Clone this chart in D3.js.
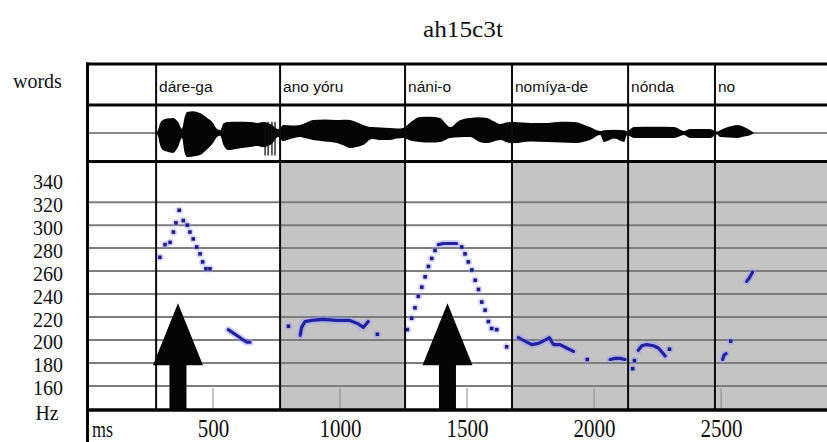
<!DOCTYPE html>
<html>
<head>
<meta charset="utf-8">
<script src="https://cdn.jsdelivr.net/npm/d3@7"></script>
<style>
  html, body { margin: 0; padding: 0; background: #fff; }
  svg { display: block; }
</style>
</head>
<body>
<svg id="chart" width="827" height="442"></svg>
<script>
// ---- data -------------------------------------------------------------
const titleText = "ah15c3t";

// word tier: label and onset (ms)
const wordLabels  = ["dáre-ga", "ano yóru", "náni-o", "nomíya-de", "nónda", "no"];
const wordStartMs = [276, 764, 1256, 1677, 2134, 2476];
const wordShaded  = [false, true, false, true, true, true];

// axes
const hzTickLabels = [160, 180, 200, 220, 240, 260, 280, 300, 320, 340];
const hzGridLines  = [160, 180, 200, 220, 240, 260, 280, 300, 320];
const msTickLabels = [500, 1000, 1500, 2000, 2500];

// accent arrows (ms) and the pitch level their tips reach (Hz)
const arrowMs = [362, 1423];
const arrowTipHz = 232;

// waveform amplitude envelope (relative units, 1 = full half-row)
const waveMs = [276, 283, 292, 303, 318, 343, 362, 378, 388, 398, 420, 449, 475, 500, 515, 528, 542, 559, 600, 646,
                675, 697, 730, 756, 766, 776, 810, 843, 870, 894, 940, 988, 1015, 1039, 1065, 1091, 1126, 1160, 1197, 1225,
                1248, 1280, 1315, 1355, 1394, 1415, 1433, 1470, 1512, 1545, 1579, 1605, 1630, 1660, 1685, 1750, 1815, 1870, 1921, 1984,
                2024, 2039, 2080, 2118, 2130, 2157, 2235, 2315, 2354, 2378, 2457, 2484, 2496, 2530, 2563, 2595, 2614, 2630];
const waveUp   = [0.00, 0.10, 0.35, 0.46, 0.52, 0.54, 0.40, 0.15, 0.55, 0.75, 0.78, 0.71, 0.55, 0.36, 0.15, 0.10, 0.35, 0.39, 0.40, 0.39,
                  0.36, 0.39, 0.30, 0.14, 0.20, 0.29, 0.27, 0.29, 0.38, 0.46, 0.48, 0.46, 0.47, 0.46, 0.38, 0.29, 0.21, 0.20, 0.18, 0.16,
                  0.18, 0.40, 0.57, 0.58, 0.54, 0.35, 0.21, 0.45, 0.54, 0.56, 0.54, 0.42, 0.32, 0.38, 0.39, 0.36, 0.36, 0.40, 0.39, 0.21,
                  0.07, 0.10, 0.12, 0.10, 0.07, 0.21, 0.22, 0.21, 0.07, 0.14, 0.14, 0.05, 0.10, 0.22, 0.29, 0.20, 0.10, 0.00];
const waveDown = [0.00, 0.10, 0.45, 0.61, 0.66, 0.71, 0.50, 0.18, 0.70, 0.86, 0.84, 0.79, 0.60, 0.36, 0.15, 0.10, 0.45, 0.61, 0.55, 0.50,
                  0.46, 0.50, 0.40, 0.14, 0.22, 0.29, 0.20, 0.14, 0.20, 0.25, 0.30, 0.36, 0.45, 0.54, 0.50, 0.43, 0.21, 0.25, 0.25, 0.20,
                  0.18, 0.28, 0.32, 0.34, 0.32, 0.25, 0.18, 0.15, 0.14, 0.30, 0.36, 0.30, 0.25, 0.34, 0.36, 0.30, 0.32, 0.34, 0.36, 0.25,
                  0.07, 0.32, 0.20, 0.32, 0.07, 0.18, 0.18, 0.18, 0.07, 0.18, 0.18, 0.05, 0.14, 0.16, 0.18, 0.12, 0.08, 0.00];
// plosive release clicks
const clickMs = [705, 717, 732, 744];

// F0 track, grouped into voiced stretches
const f0DaregaMs     = [291, 311, 331, 344, 354, 367, 383, 399, 409, 422, 436, 449, 459, 472, 488];
const f0DaregaHz     = [272, 283, 285, 294, 302, 313, 304, 300, 294, 288, 281, 275, 268, 262, 262];
const f0DaregaTailMs = [560, 580, 600, 619, 633, 646];
const f0DaregaTailHz = [209, 206, 203, 200, 198, 198];
const f0AnoOnsetMs   = [797];
const f0AnoOnsetHz   = [212];
const f0AnoMs        = [843, 849, 862, 888, 934, 987, 1039, 1072, 1092, 1111];
const f0AnoHz        = [204, 211, 216, 217, 218, 217, 217, 214, 211, 216];
const f0AnoEndMs     = [1147];
const f0AnoEndHz     = [205];
const f0NaniRiseMs   = [1265, 1282, 1295, 1308, 1322, 1335, 1348, 1361, 1374];
const f0NaniRiseHz   = [209, 219, 228, 238, 246, 255, 264, 271, 278];
const f0NaniTopMs    = [1387, 1407, 1433, 1459];
const f0NaniTopHz    = [283, 284, 284, 284];
const f0NaniFallMs   = [1479, 1492, 1505, 1519, 1532, 1545, 1558, 1571, 1584, 1597, 1617, 1656];
const f0NaniFallHz   = [281, 275, 268, 261, 252, 244, 233, 226, 216, 210, 209, 194];
const f0NomiyaMs     = [1702, 1728, 1755, 1781, 1800, 1824, 1840, 1866, 1892, 1919];
const f0NomiyaHz     = [202, 199, 196, 197, 199, 202, 196, 196, 193, 190];
const f0NomiyaDotMs  = [1973, 2152, 2159];
const f0NomiyaDotHz  = [183, 175, 182];
const f0DeMs         = [2063, 2083, 2102, 2122];
const f0DeHz         = [183, 184, 184, 183];
const f0NondaMs      = [2174, 2188, 2207, 2234, 2253, 2273, 2280];
const f0NondaHz      = [191, 195, 196, 195, 193, 188, 186];
const f0NondaEndMs   = [2297];
const f0NondaEndHz   = [192];
const f0NoLowMs      = [2506, 2512, 2520];
const f0NoLowHz      = [183, 187, 188];
const f0NoDotMs      = [2538];
const f0NoDotHz      = [199];
const f0NoHighMs     = [2601, 2611, 2624];
const f0NoHighHz     = [251, 254, 259];

const f0Runs = [
  [f0DaregaMs, f0DaregaHz, false], [f0DaregaTailMs, f0DaregaTailHz, true],
  [f0AnoOnsetMs, f0AnoOnsetHz, false], [f0AnoMs, f0AnoHz, true], [f0AnoEndMs, f0AnoEndHz, false],
  [f0NaniRiseMs, f0NaniRiseHz, false], [f0NaniTopMs, f0NaniTopHz, true], [f0NaniFallMs, f0NaniFallHz, false],
  [f0NomiyaMs, f0NomiyaHz, true], [f0NomiyaDotMs, f0NomiyaDotHz, false], [f0DeMs, f0DeHz, true],
  [f0NondaMs, f0NondaHz, true], [f0NondaEndMs, f0NondaEndHz, false],
  [f0NoLowMs, f0NoLowHz, true], [f0NoDotMs, f0NoDotHz, false], [f0NoHighMs, f0NoHighHz, true]
].map(([ms, hz, joined]) => ({ joined, pts: ms.map((m, i) => ({ ms: m, hz: hz[i] })) }));

// ---- layout -----------------------------------------------------------
const W = 827;
const frameLeft = 87.5, frameTop = 64, wordsBottom = 105, waveBottom = 161.5, pitchBottom = 410;
const x = d3.scaleLinear().domain([0, 2917]).range([86, W]);
const y = d3.scaleLinear().domain([139, 355]).range([pitchBottom, 162]);
const amp = d3.scaleLinear().domain([-1, 1]).range([161, 105]);

const svg = d3.select("#chart");
const serif = "'Liberation Serif', 'Times New Roman', serif";
const sans = "'Liberation Sans', Arial, sans-serif";

svg.append("rect").attr("width", W).attr("height", 442).attr("fill", "#fff");

// title
svg.append("text").attr("x", 463).attr("y", 37).attr("text-anchor", "middle")
  .attr("font-family", serif).attr("font-size", 23)
  .attr("textLength", 80).attr("lengthAdjust", "spacingAndGlyphs")
  .attr("fill", "#111").text(titleText);

// word intervals
const words = wordLabels.map((w, i) => ({
  label: w, start: wordStartMs[i],
  end: i + 1 < wordStartMs.length ? wordStartMs[i + 1] : x.domain()[1],
  shaded: wordShaded[i]
}));

// pitch panel shading
svg.append("g").selectAll("rect").data(words.filter(d => d.shaded)).join("rect")
  .attr("x", d => x(d.start)).attr("width", d => x(d.end) - x(d.start))
  .attr("y", waveBottom).attr("height", pitchBottom - waveBottom)
  .attr("fill", "#c4c4c4");

// horizontal pitch grid
svg.append("g").selectAll("line").data(hzGridLines).join("line")
  .attr("x1", frameLeft).attr("x2", W)
  .attr("y1", d => y(d)).attr("y2", d => y(d))
  .attr("stroke", "#7d7d7d").attr("stroke-width", 2);

// time ticks rising from the panel floor
svg.append("g").selectAll("line").data(msTickLabels).join("line")
  .attr("x1", d => x(d)).attr("x2", d => x(d))
  .attr("y1", y(160) + 2).attr("y2", pitchBottom)
  .attr("stroke", "#8a8a8a").attr("stroke-width", 1);

// accent arrows
const headHalf = 25, shaftHalf = 8.5, headLen = 62;
svg.append("g").selectAll("path").data(arrowMs).join("path")
  .attr("d", d => {
    const cx = x(d), ty = y(arrowTipHz), by = ty + headLen;
    return `M${cx},${ty} L${cx + headHalf},${by} L${cx + shaftHalf},${by} L${cx + shaftHalf},${pitchBottom}` +
           ` L${cx - shaftHalf},${pitchBottom} L${cx - shaftHalf},${by} L${cx - headHalf},${by} Z`;
  })
  .attr("fill", "#050505");

// F0 track
const line = d3.line().x(d => x(d.ms)).y(d => y(d.hz));
const f0g = svg.append("g");
f0Runs.forEach(run => {
  if (run.joined && run.pts.length > 1) {
    f0g.append("path").attr("d", line(run.pts)).attr("fill", "none")
      .attr("stroke", "#9a9aff").attr("stroke-opacity", 0.45).attr("stroke-width", 7)
      .attr("stroke-linecap", "round").attr("stroke-linejoin", "round");
    f0g.append("path").attr("d", line(run.pts)).attr("fill", "none")
      .attr("stroke", "#2222a0").attr("stroke-width", 3.2)
      .attr("stroke-linecap", "round").attr("stroke-linejoin", "round");
  } else {
    f0g.selectAll(null).data(run.pts).join("circle")
      .attr("cx", d => x(d.ms)).attr("cy", d => y(d.hz)).attr("r", 3.8)
      .attr("fill", "#9a9aff").attr("fill-opacity", 0.4);
    f0g.selectAll(null).data(run.pts).join("rect")
      .attr("x", d => x(d.ms) - 1.8).attr("y", d => y(d.hz) - 1.8)
      .attr("width", 3.6).attr("height", 3.6).attr("fill", "#1c1c8a");
  }
});

// waveform
const wave = waveMs.map((m, i) => ({ ms: m, up: waveUp[i], down: waveDown[i] }));
svg.append("line").attr("x1", frameLeft).attr("x2", W)
  .attr("y1", amp(0)).attr("y2", amp(0)).attr("stroke", "#111").attr("stroke-width", 1.2);
svg.append("path")
  .attr("d", d3.area().x(d => x(d.ms)).y0(d => amp(-d.down)).y1(d => amp(d.up))
    .curve(d3.curveMonotoneX)(wave))
  .attr("fill", "#050505");
svg.append("g").selectAll("line").data(clickMs).join("line")
  .attr("x1", d => x(d)).attr("x2", d => x(d))
  .attr("y1", amp(0.4)).attr("y2", amp(-0.8))
  .attr("stroke", "#111").attr("stroke-width", 1.3);

// word boundaries through all three tiers
svg.append("g").selectAll("line").data(wordStartMs).join("line")
  .attr("x1", d => x(d)).attr("x2", d => x(d))
  .attr("y1", frameTop).attr("y2", pitchBottom)
  .attr("stroke", "#0a0a0a").attr("stroke-width", 2);

// word labels
svg.append("g").selectAll("text").data(words).join("text")
  .attr("x", d => x(d.start) + 3).attr("y", 92)
  .attr("font-family", sans).attr("font-size", 15.5).attr("fill", "#111")
  .text(d => d.label);

// frame rules
const hRule = (yy, w) => svg.append("line").attr("x1", frameLeft - 1.5).attr("x2", W)
  .attr("y1", yy).attr("y2", yy).attr("stroke", "#050505").attr("stroke-width", w);
hRule(frameTop, 3);
hRule(wordsBottom, 3);
hRule(waveBottom, 3);
hRule(pitchBottom, 3.5);
svg.append("line").attr("x1", frameLeft).attr("x2", frameLeft)
  .attr("y1", frameTop - 1.5).attr("y2", 442)
  .attr("stroke", "#050505").attr("stroke-width", 3);

// left tier labels
svg.append("text").attr("x", 13).attr("y", 88)
  .attr("font-family", serif).attr("font-size", 20).attr("fill", "#111").text("words");

svg.append("g").selectAll("text").data(hzTickLabels).join("text")
  .attr("x", 48).attr("y", d => y(d) + 9.5).attr("text-anchor", "middle")
  .attr("font-family", serif).attr("font-size", 22)
  .attr("textLength", 30).attr("lengthAdjust", "spacingAndGlyphs")
  .attr("fill", "#111").text(d => d);

svg.append("text").attr("x", 47).attr("y", 420).attr("text-anchor", "middle")
  .attr("font-family", serif).attr("font-size", 22)
  .attr("textLength", 23).attr("lengthAdjust", "spacingAndGlyphs")
  .attr("fill", "#111").text("Hz");

// time axis
const xAxis = svg.append("g").attr("transform", `translate(0,${pitchBottom})`)
  .call(d3.axisBottom(x).tickValues(msTickLabels).tickSize(0).tickPadding(0).tickFormat(d3.format("d")));
xAxis.select(".domain").remove();
xAxis.selectAll("text")
  .attr("y", 27).attr("dy", null)
  .attr("font-family", serif).attr("font-size", 25).attr("fill", "#111")
  .attr("textLength", d => String(d).length * 10.5).attr("lengthAdjust", "spacingAndGlyphs");

svg.append("text").attr("x", 92).attr("y", 437)
  .attr("font-family", serif).attr("font-size", 23)
  .attr("textLength", 21).attr("lengthAdjust", "spacingAndGlyphs")
  .attr("fill", "#111").text("ms");
</script>
</body>
</html>
